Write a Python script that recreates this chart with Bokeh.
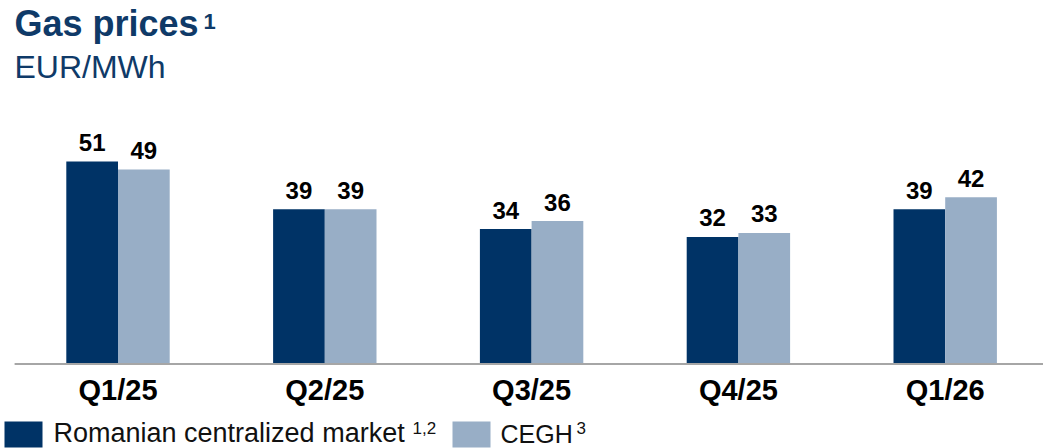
from bokeh.plotting import figure
from bokeh.models import Range1d, Label, BoxAnnotation, ColumnDataSource
from bokeh.core.properties import value
from bokeh.embed import file_html
from bokeh.resources import INLINE

# ---- data ----
quarters = ["Q1/25", "Q2/25", "Q3/25", "Q4/25", "Q1/26"]
romanian = [51, 39, 34, 32, 39]
cegh = [49, 39, 36, 33, 42]

title_text = "Gas prices"
unit_text = "EUR/MWh"
series_names = ["Romanian centralized market", "CEGH"]
series_notes = ["1,2", "3"]

DARK = "#003366"
LIGHT = "#98aec6"
NAVY_TEXT = "#0f3a68"
FONT = "Liberation Sans"
K = 0.36  # baseline compensation (fraction of font size)

W, H = 1043, 448

p = figure(width=W, height=H, output_backend="svg", toolbar_location=None,
           x_range=Range1d(-0.5682, 4.4753), y_range=Range1d(-21.28, 91.56),
           x_axis_location=None, y_axis_location=None, min_border=0,
           outline_line_color=None)
p.grid.visible = False
p.background_fill_color = "white"

idx = list(range(len(quarters)))
bw = 0.25
src = ColumnDataSource(dict(
    x=idx, q=quarters,
    xr=[i - bw / 2 for i in idx], xc=[i + bw / 2 for i in idx],
    r=romanian, c=cegh,
    rl=[str(v) for v in romanian], cl=[str(v) for v in cegh],
))

p.vbar(x="xr", top="r", bottom=0, width=bw, source=src, fill_color=DARK, line_color=None)
p.vbar(x="xc", top="c", bottom=0, width=bw, source=src, fill_color=LIGHT, line_color=None)

# baseline
p.segment(x0=-0.5, y0=0, x1=len(quarters), y1=0, line_color="#a6a6a6", line_width=2)

# value labels
for xcol, ycol, tcol in (("xr", "r", "rl"), ("xc", "c", "cl")):
    p.text(x=xcol, y=ycol, text=tcol, source=src, text_align="center",
           text_baseline="alphabetic", y_offset=-19, text_font=value(FONT),
           text_font_style="bold", text_font_size="24px", text_color="#000000")

# category labels
p.text(x="x", y=0, text="q", source=src, text_align="center",
       text_baseline="alphabetic", y_offset=26, text_font=value(FONT),
       text_font_style="bold", text_font_size="29px", text_color="#000000")

def lab(x, base_y, t, size, style="normal", color="#000000"):
    # base_y: desired baseline, in pixels from the top of the picture
    y = H - base_y + K * size
    p.add_layout(Label(x=x, y=y, x_units="screen", y_units="screen", text=t,
                       text_font=FONT, text_font_size=f"{size}px", text_font_style=style,
                       text_color=color, text_baseline="alphabetic", text_align="left"))

# title
lab(14, 36, title_text, 36, "bold", NAVY_TEXT)
lab(203, 29, "1", 22, "bold", NAVY_TEXT)
lab(14, 78, unit_text, 32, "normal", NAVY_TEXT)

# legend
def box(l, r, color):
    p.add_layout(BoxAnnotation(left=l, right=r, bottom=1, top=27, left_units="screen",
                               right_units="screen", bottom_units="screen", top_units="screen",
                               fill_color=color, fill_alpha=1, line_color=None))

box(4, 42, DARK)
lab(53, 442, series_names[0], 27, "normal", "#111111")
lab(412, 434, series_notes[0], 17, "normal", "#111111")
box(452, 490, LIGHT)
lab(500, 442, series_names[1], 25, "normal", "#111111")
lab(576, 434, series_notes[1], 17, "normal", "#111111")

open("out.html", "w").write(file_html(p, INLINE))
